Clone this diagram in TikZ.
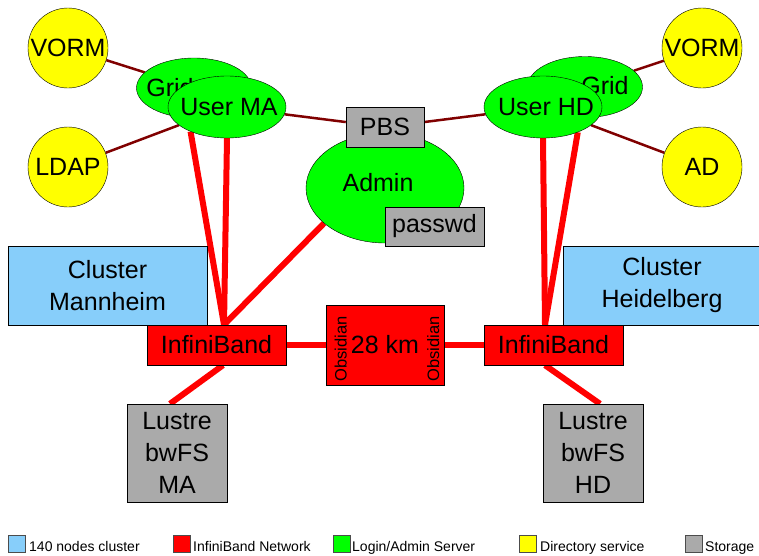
\documentclass[tikz,border=0pt]{standalone}
\usepackage{fontspec}
\setmainfont{Liberation Sans}
\usepackage{tikz}
\usetikzlibrary{shapes,arrows,calc,backgrounds}
\definecolor{clusterblue}{RGB}{135,206,250}
\definecolor{ibred}{RGB}{255,0,0}
\definecolor{logingreen}{RGB}{0,255,0}
\definecolor{diryellow}{RGB}{255,255,0}
\definecolor{storagegray}{RGB}{170,170,170}
\definecolor{linkred}{RGB}{128,0,0}

\begin{document}
\begin{tikzpicture}[x=1pt,y=-1pt,font=\fontsize{25}{32}\selectfont]
    \tikzstyle{dir} = [draw, shape=circle, fill=diryellow, minimum size=80pt, inner sep=0pt]
    \tikzstyle{server} = [draw, shape=ellipse, fill=logingreen, inner sep=0pt]
    \tikzstyle{box} = [draw, shape=rectangle, inner sep=0pt, align=center]
    \tikzstyle{legbox} = [draw=black!70, shape=rectangle, minimum size=17pt, inner sep=0pt]
    \tikzstyle{legtext} = [anchor=base west, inner sep=0pt, font=\fontsize{14}{16}\selectfont]
    \tikzstyle{obslabel} = [rotate=90, inner sep=0pt, font=\fontsize{16.5}{18}\selectfont]
    \useasboundingbox (0,0) rectangle (759,555);
    %Directory services
    \node [dir, label={center:VORM}] (vormma) at (68,48) {};
    \node [dir, label={center:LDAP}] (ldap) at (68,167) {};
    \node [dir, label={center:VORM}] (vormhd) at (702,48) {};
    \node [dir, label={center:AD}] (ad) at (702,167) {};
    %Login and admin servers
    \node [server, minimum width=115pt, minimum height=60pt, label={[xshift=-24pt]center:Grid}] (gridma) at (194,88) {};
    \node [server, minimum width=118pt, minimum height=62pt, label={[xshift=2pt]center:User MA}] (userma) at (227,107) {};
    \node [server, minimum width=115pt, minimum height=61pt, label={[xshift=20pt,yshift=1pt]center:Grid}] (gridhd) at (585,87) {};
    \node [server, minimum width=118pt, minimum height=62pt, label={[xshift=3pt]center:User HD}] (userhd) at (543,107) {};
    \node [server, minimum width=158pt, minimum height=110pt, label={[xshift=-7pt,yshift=5pt]center:Admin}] (admin) at (385,188) {};
    \node [box, fill=storagegray, minimum width=78pt, minimum height=40pt] (pbs) at (385,127) {PBS};
    \node [box, fill=storagegray, minimum width=99pt, minimum height=39pt] (passwd) at (434.5,226.5) {passwd};
    %Clusters
    \node [box, fill=clusterblue, minimum width=199pt, minimum height=79pt] (clusterma) at (107.5,285.5) {Cluster\\Mannheim};
    \node [box, fill=clusterblue, minimum width=198pt, minimum height=79pt] (clusterhd) at (662,285.5) {Cluster\\Heidelberg};
    %InfiniBand
    \node [box, fill=ibred, minimum width=139pt, minimum height=40pt] (ibma) at (216.5,345) {InfiniBand};
    \node [box, fill=ibred, minimum width=118pt, minimum height=80pt] (obs) at (385,345) {28 km};
    \node [box, fill=ibred, minimum width=139pt, minimum height=40pt] (ibhd) at (553.5,345) {InfiniBand};
    \node [obslabel] (obsleft) at ($(obs.west)+(15,4)$) {Obsidian};
    \node [obslabel] (obsright) at ($(obs.east)+(-11,4)$) {Obsidian};
    %Storage
    \node [box, fill=storagegray, minimum width=100pt, minimum height=98pt] (lustrema) at (177,453) {Lustre\\bwFS\\MA};
    \node [box, fill=storagegray, minimum width=100pt, minimum height=98pt] (lustrehd) at (593,453) {Lustre\\bwFS\\HD};
    %Connection points
    \coordinate (ibmatop) at ($(ibma.north)+(7.5,0)$);
    \coordinate (ibmabot) at ($(ibma.south)+(6.5,0)$);
    \coordinate (ibhdtop) at ($(ibhd.north)+(-8.5,0)$);
    \coordinate (ibhdbot) at ($(ibhd.south)+(-8.5,0)$);
    \coordinate (lustrematop) at ($(lustrema.north)+(-7,0)$);
    \coordinate (lustrehdtop) at ($(lustrehd.north)+(7,0)$);
    %Conecting nodes
    \begin{pgfonlayer}{background}
    \begin{scope}[line width=2.5pt, color=linkred]
        \draw (vormma) -- (gridma);
        \draw (ldap) -- (userma);
        \draw (userma) -- (pbs);
        \draw (pbs) -- (userhd);
        \draw (gridhd) -- (vormhd);
        \draw (userhd) -- (ad);
    \end{scope}
    \begin{scope}[line width=6pt, color=ibred]
        \draw (userma.214) -- (ibmatop);
        \draw (userma.south) -- (ibmatop);
        \draw (admin.210) -- (ibmatop);
        \draw (userhd.south) -- (ibhdtop);
        \draw (userhd.324) -- (ibhdtop);
        \draw (ibma.east) -- (obs.west);
        \draw (obs.east) -- (ibhd.west);
        \draw (ibmabot) -- (lustrematop);
        \draw (ibhdbot) -- (lustrehdtop);
    \end{scope}
    \end{pgfonlayer}
    %Legend
    \node [legbox, fill=clusterblue] (legcluster) at (16.5,543.5) {};
    \node [legbox, fill=ibred] (legib) at (181.5,543.5) {};
    \node [legbox, fill=logingreen] (leglogin) at (341.5,543.5) {};
    \node [legbox, fill=diryellow] (legdir) at (528,543.5) {};
    \node [legbox, fill=storagegray] (legstorage) at (693.5,543.5) {};
    \node [legtext] at (29,551) {140 nodes cluster};
    \node [legtext] at (193,551) {InfiniBand Network};
    \node [legtext] at (352,551) {Login/Admin Server};
    \node [legtext] at (540,551) {Directory service};
    \node [legtext] at (705,551) {Storage};
\end{tikzpicture}
\end{document}
